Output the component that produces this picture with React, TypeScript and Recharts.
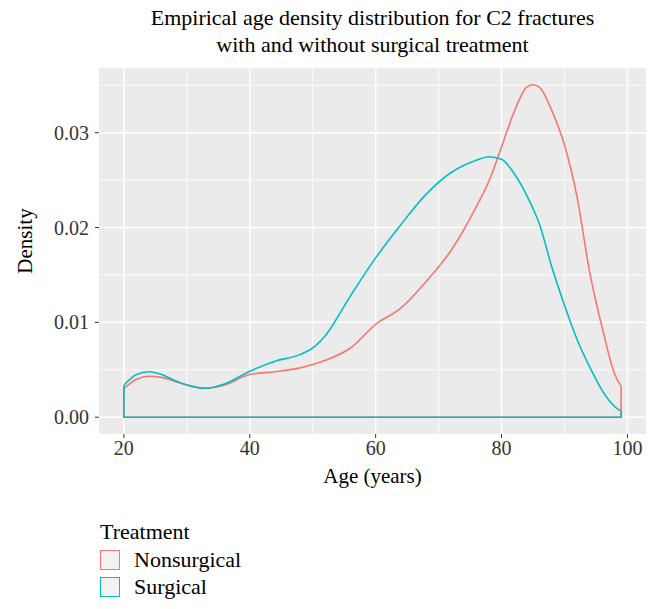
import React from 'react';
import { ComposedChart, Line, XAxis, YAxis, CartesianGrid } from 'recharts';

// density estimates (age in years)
const ages = [20, 22, 24, 26, 28, 30, 33, 36, 40, 44, 48, 50, 52, 56, 60, 64, 68, 72, 76, 78, 80, 82, 84, 85, 86, 88, 90, 92, 94, 96, 98, 99];
const nonsurgical = [0.00302, 0.004, 0.00432, 0.0042, 0.0038, 0.0034, 0.00305, 0.0034, 0.0045, 0.0048, 0.0052, 0.00555, 0.006, 0.0073, 0.0098, 0.0115, 0.0143, 0.0176, 0.0222, 0.0249, 0.0285, 0.0322, 0.0348, 0.03505, 0.0348, 0.0323, 0.0287, 0.0232, 0.0153, 0.0094, 0.0045, 0.00326];
const surgical = [0.00337, 0.0045, 0.0048, 0.0045, 0.0039, 0.0034, 0.00305, 0.0035, 0.00484, 0.0059, 0.0066, 0.0073, 0.0086, 0.0128, 0.0168, 0.0203, 0.0235, 0.0258, 0.0271, 0.02747, 0.0272, 0.0257, 0.0234, 0.022, 0.0204, 0.0158, 0.0118, 0.0082, 0.0053, 0.0028, 0.0011, 0.00063];

const xTicks = [20, 40, 60, 80, 100];
const xMinor = [30, 50, 70, 90];
const yTicks = [0, 0.01, 0.02, 0.03];
const yMinor = [0.005, 0.015, 0.025, 0.035];

const groups = ['Nonsurgical', 'Surgical'];
const colors = ['#F8766D', '#00BFC4'];

const FONT = '"Liberation Serif", "DejaVu Serif", serif';

// curve points plus the closing outline (down to zero, along the base, back up)
const toCurve = (vals: number[]) => ages.map((a, i) => ({ age: a, d: vals[i] }));
const toOutline = (vals: number[]) => [
  { age: ages[ages.length - 1], d: vals[vals.length - 1] },
  { age: ages[ages.length - 1], d: 0 },
  { age: ages[0], d: 0 },
  { age: ages[0], d: vals[0] },
];

const series = [nonsurgical, surgical];

const DensityLabel = () => (
  <text
    x={25}
    y={241}
    transform="rotate(-90, 25, 241)"
    textAnchor="middle"
    dominantBaseline="central"
    fill="#000"
    fontSize={21}
    fontFamily={FONT}
  >
    Density
  </text>
);

export default function App() {
  return (
    <div style={{ position: 'absolute', left: 0, top: 0, width: 660, height: 609, background: '#fff', fontFamily: FONT }}>
      <div style={{ position: 'absolute', left: 99, width: 547, top: 4, textAlign: 'center', fontSize: 22, lineHeight: '27px', color: '#000' }}>
        Empirical age density distribution for C2 fractures
        <br />
        with and without surgical treatment
      </div>

      <ComposedChart width={660} height={609} margin={{ top: 68, right: 14, bottom: 145, left: 0 }}>
        <CartesianGrid
          fill="#EBEBEB"
          stroke="#fff"
          strokeWidth={0.8}
          horizontalValues={yMinor}
          verticalValues={xMinor}
        />
        <CartesianGrid stroke="#fff" strokeWidth={1.5} horizontalValues={yTicks} verticalValues={xTicks} />
        <XAxis
          type="number"
          dataKey="age"
          domain={[16.05, 102.95]}
          allowDataOverflow
          ticks={xTicks}
          height={30}
          axisLine={false}
          tickSize={4}
          tickMargin={3}
          tickLine={{ stroke: '#333' }}
          tick={{ fill: '#333', fontSize: 20, fontFamily: FONT }}
          label={{ value: 'Age (years)', position: 'bottom', offset: 4, style: { fill: '#000', fontSize: 21, fontFamily: FONT } }}
        />
        <YAxis
          type="number"
          dataKey="d"
          domain={[-0.00177, 0.03682]}
          allowDataOverflow
          ticks={yTicks}
          width={99}
          axisLine={false}
          tickSize={4}
          tickMargin={6}
          tickFormatter={(v: number) => v.toFixed(2)}
          tickLine={{ stroke: '#333' }}
          tick={{ fill: '#333', fontSize: 20, fontFamily: FONT }}
          label={{ content: <DensityLabel /> }}
        />
        {series.map((vals, i) => (
          <Line
            key={groups[i] + '-curve'}
            data={toCurve(vals)}
            dataKey="d"
            name={groups[i]}
            type="monotone"
            stroke={colors[i]}
            strokeWidth={1.6}
            dot={false}
            activeDot={false}
            isAnimationActive={false}
          />
        ))}
        {series.map((vals, i) => (
          <Line
            key={groups[i] + '-outline'}
            data={toOutline(vals)}
            dataKey="d"
            type="linear"
            stroke={colors[i]}
            strokeWidth={1.6}
            dot={false}
            activeDot={false}
            legendType="none"
            isAnimationActive={false}
          />
        ))}
      </ComposedChart>

      <div style={{ position: 'absolute', left: 100, top: 518, fontSize: 22, color: '#000' }}>
        <div style={{ lineHeight: '28px' }}>Treatment</div>
        {groups.map((g, i) => (
          <div key={g} style={{ display: 'flex', alignItems: 'center', height: 27 }}>
            <span style={{ boxSizing: 'border-box', width: 20, height: 20, border: `1.5px solid ${colors[i]}`, background: '#F2F2F2', display: 'inline-block' }} />
            <span style={{ marginLeft: 14, lineHeight: '27px' }}>{g}</span>
          </div>
        ))}
      </div>
    </div>
  );
}
